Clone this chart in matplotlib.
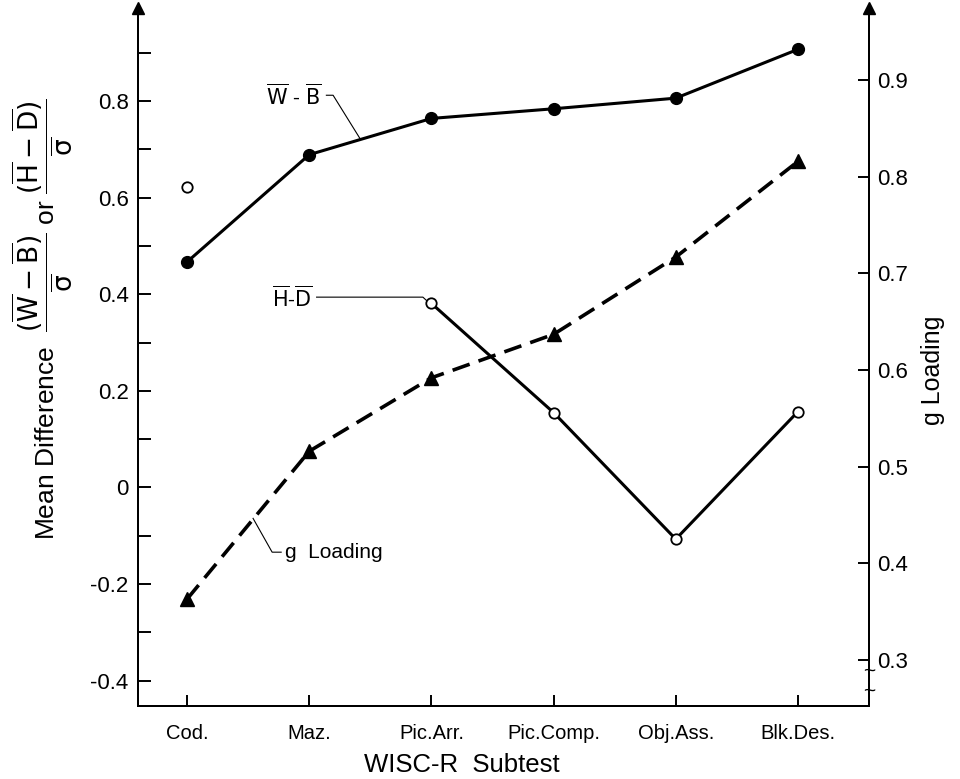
import matplotlib.pyplot as plt
from matplotlib.transforms import blended_transform_factory

# WISC-R subtests (x axis)
subtests = ['Cod.', 'Maz.', 'Pic.Arr.', 'Pic.Comp.', 'Obj.Ass.', 'Blk.Des.']

# mean differences in sigma units (left axis)
w_minus_b = [0.467, 0.689, 0.764, 0.784, 0.806, 0.907]
h_minus_d = [0.623, None, 0.381, 0.155, -0.107, 0.157]

# g loadings (right axis)
g_loading = [0.363, 0.516, 0.592, 0.637, 0.717, 0.816]

left_ticks = [-0.4, -0.2, 0.0, 0.2, 0.4, 0.6, 0.8]
left_labels = ['-0.4', '-0.2', '0', '0.2', '0.4', '0.6', '0.8']
left_minor = [-0.3, -0.1, 0.1, 0.3, 0.5, 0.7, 0.9]
right_ticks = [0.3, 0.4, 0.5, 0.6, 0.7, 0.8, 0.9]
right_labels = ['0.3', '0.4', '0.5', '0.6', '0.7', '0.8', '0.9']

plt.rcParams['font.family'] = ['Liberation Sans', 'DejaVu Sans']
plt.rcParams['mathtext.fontset'] = 'dejavusans'

fig = plt.figure(figsize=(9.6, 7.79), dpi=100)
ax = fig.add_axes([0.144, 0.094, 0.761, 0.891])
ax2 = ax.twinx()

x = list(range(len(subtests)))

# H-D: isolated Cod. point, connected from Pic.Arr. on
hd_x = [i for i, v in enumerate(h_minus_d) if v is not None and i >= 2]
hd_y = [h_minus_d[i] for i in hd_x]
ax.plot(hd_x, hd_y, color='black', lw=2.2, zorder=3)
ax.plot([i for i, v in enumerate(h_minus_d) if v is not None],
        [v for v in h_minus_d if v is not None],
        'o', ms=7.5, mfc='white', mec='black', mew=1.3, zorder=4, ls='none')

# W-B
ax.plot(x, w_minus_b, color='black', lw=2.2, marker='o', ms=8.5, zorder=3)

# g loading on right axis
ax2.plot(x, g_loading, color='black', lw=2.6, ls=(0, (5, 2.6)),
         marker='^', ms=10, zorder=3)

ax.set_xlim(-0.40, 5.58)
ax.set_ylim(-0.452, 0.985)
# right scale: 0.1 g loading spans 0.2 on the left scale
ax2.set_ylim(0.3 + (-0.452 + 0.357) * 0.5, 0.3 + (0.985 + 0.357) * 0.5)

ax.set_xticks(x, subtests, fontsize=14.5)
ax.set_yticks(left_ticks, left_labels, fontsize=16)
ax.set_yticks(left_minor, minor=True)
ax2.set_yticks(right_ticks, right_labels, fontsize=16)

ax.tick_params(axis='y', which='both', direction='in', length=9, width=1.4, pad=7)
ax.tick_params(axis='x', direction='in', length=8, width=1.4, pad=13)
ax2.tick_params(axis='y', direction='in', length=8, width=1.4, pad=6)

for a in (ax, ax2):
    a.spines['top'].set_visible(False)
    for s in a.spines.values():
        s.set_linewidth(1.4)

# arrowheads on the top of both vertical axes
ax.plot([0, 1], [1.005, 1.005], marker='^', ms=9, color='black', ls='none',
        transform=ax.transAxes, clip_on=False)

# axis break marks on right axis
tr = blended_transform_factory(ax2.transAxes, ax2.transData)
ax2.text(1.0, 0.288, '~', transform=tr, ha='center', va='center', fontsize=15)
ax2.text(1.0, 0.268, '~', transform=tr, ha='center', va='center', fontsize=15)

# series labels with leader lines
ax.text(1.10, 0.81, r'$\overline{\rm W}$ - $\overline{\rm B}$', fontsize=15,
        ha='right', va='center')
ax.plot([1.14, 1.195, 1.416], [0.812, 0.812, 0.722], color='black', lw=0.8)

ax.text(1.03, 0.392, r'$\overline{\rm H}$-$\overline{\rm D}$', fontsize=15,
        ha='right', va='center')
ax.plot([1.06, 1.93, 1.96], [0.394, 0.394, 0.387], color='black', lw=0.8)

ax.text(0.80, -0.134, 'g  Loading', fontsize=15, ha='left', va='center')
ax.plot([0.54, 0.696, 0.77], [-0.064, -0.134, -0.134], color='black', lw=0.8)

# axis titles
fig.text(0.045, 0.59,
         r'Mean Difference  $\dfrac{(\overline{\rm W}-\overline{\rm B})}{\overline{\sigma}}$'
         r' or $\dfrac{(\overline{\rm H}-\overline{\rm D})}{\overline{\sigma}}$',
         rotation=90, ha='center', va='center', fontsize=19)
fig.text(0.972, 0.525, 'g Loading', rotation=90, ha='center', va='center', fontsize=18)
fig.text(0.481, 0.018, 'WISC-R  Subtest', ha='center', va='center', fontsize=18.5)

fig.savefig('out.png', dpi=100)
